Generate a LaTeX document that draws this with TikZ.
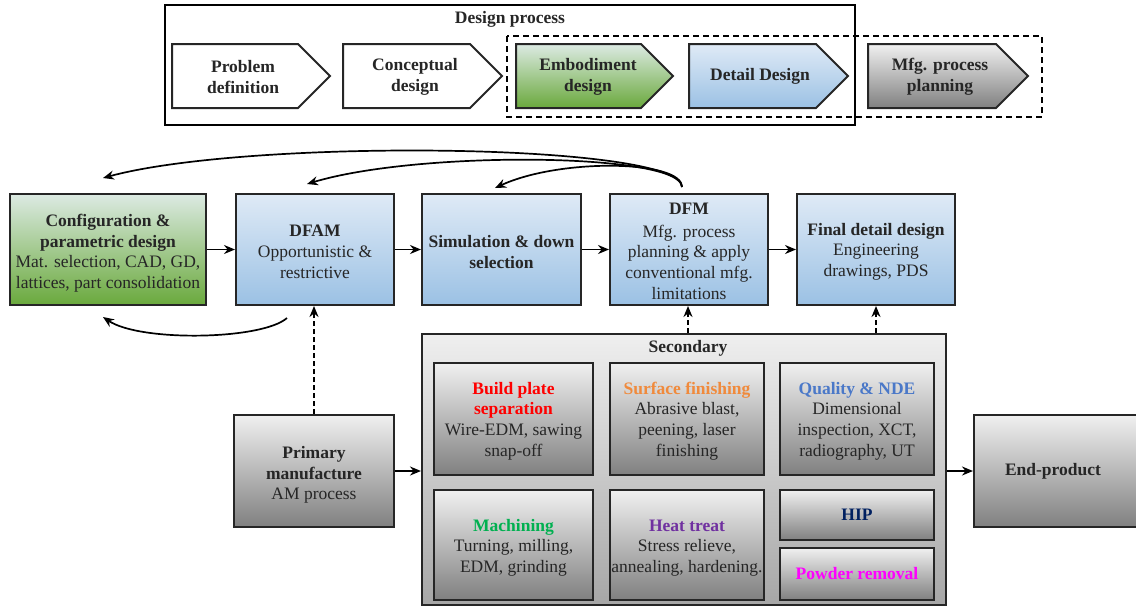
\documentclass[tikz,border=0pt]{standalone}
\usepackage{fontspec}
\IfFontExistsTF{LiberationSerif-Regular.ttf}{\setmainfont{LiberationSerif}[Extension=.ttf,UprightFont=*-Regular,BoldFont=*-Bold,ItalicFont=*-Italic,BoldItalicFont=*-BoldItalic]}{\setmainfont{Liberation Serif}}
\usetikzlibrary{arrows.meta,fit}
\definecolor{bluetop}{HTML}{DFEAF6}
\definecolor{bluebot}{HTML}{9BC1E4}
\definecolor{greentop}{HTML}{DCEAE3}
\definecolor{greenbot}{HTML}{6AA93C}
\definecolor{graytop}{HTML}{F0F0F0}
\definecolor{graybot}{HTML}{808080}
\definecolor{sectop}{HTML}{EFEFEF}
\definecolor{secbot}{HTML}{A6A6A6}
\definecolor{cred}{HTML}{FF0000}
\definecolor{corange}{HTML}{F08A3C}
\definecolor{cblue}{HTML}{4A78C8}
\definecolor{cgreen}{HTML}{00B050}
\definecolor{cpurple}{HTML}{7030A0}
\definecolor{cnavy}{HTML}{002060}
\definecolor{cmag}{HTML}{FF00FF}
\definecolor{txt}{HTML}{262626}
\newcommand{\myfont}{\rmfamily\fontsize{8.75}{10.3}\selectfont}
\newcommand{\ts}[1]{\rule{0pt}{#1}}
\begin{document}
\begin{tikzpicture}[x=0.5pt,y=-0.5pt,
  box/.style={draw=black!85, line width=1pt, inner sep=0pt, align=center, font=\myfont, text=txt},
  bluebox/.style={box, top color=bluetop, bottom color=bluebot, minimum width=79pt, minimum height=55.5pt},
  greenbox/.style={box, top color=greentop, bottom color=greenbot},
  graybox/.style={box, top color=graytop, bottom color=graybot},
  secbox/.style={box, top color=sectop, bottom color=secbot},
  chev/.style={draw=black!85, line width=1pt},
  lbl/.style={font=\myfont\bfseries, align=center, text=txt, inner sep=0pt},
  arr/.style={-{Stealth[length=5.5pt,width=4.5pt]}, line width=0.85pt, black},
  darr/.style={arr, dash pattern=on 2.5pt off 1.5pt},
]
\useasboundingbox (0,0) rectangle (1136,607);
% Design process frame
\node[draw=black, line width=1pt, inner sep=0pt, fit={(165,5)(855,125)}] (dp) {};
\node[lbl] (dptitle) at (510,19) {Design process};
\draw[line width=1pt, dash pattern=on 3pt off 2pt] (507,36) rectangle (1042,117);
% chevrons
\draw[chev, fill=white] (172,44) -- (298,44) -- (330,76) -- (298,108) -- (172,108) -- cycle;
\node[lbl] (c1) at (243,77) {Problem\\definition};
\draw[chev, fill=white] (343,44) -- (470,44) -- (502,76) -- (470,108) -- (343,108) -- cycle;
\node[lbl] (c2) at (415,77) {Conceptual\\design};
\shade[chev, top color=greentop, bottom color=greenbot] (516,44) -- (641,44) -- (673,76) -- (641,108) -- (516,108) -- cycle;
\node[lbl] (c3) at (588,77) {Embodiment\\design};
\shade[chev, top color=bluetop, bottom color=bluebot] (689,44) -- (816,44) -- (848,76) -- (816,108) -- (689,108) -- cycle;
\node[lbl] (c4) at (760,76) {Detail Design};
\shade[chev, top color=graytop, bottom color=graybot] (868,44) -- (996,44) -- (1028,76) -- (996,108) -- (868,108) -- cycle;
\node[lbl] (c5) at (940,77) {Mfg. process\\planning};
% Row 2
\node[greenbox, minimum width=98pt, minimum height=55.5pt] (config) at (108,249.5) {\ts{10pt}\textbf{Configuration \&}\\\textbf{parametric design}\\Mat. selection, CAD, GD,\\lattices, part consolidation};
\node[bluebox] (dfam) at (315,249.5) {\ts{8pt}\textbf{DFAM}\\Opportunistic \&\\restrictive};
\node[bluebox, minimum width=79.5pt] (sim) at (501.5,249.5) {\ts{8.5pt}\textbf{Simulation \& down}\\\textbf{selection}};
\node[bluebox] (dfm) at (689,249.5) {\ts{7.5pt}\textbf{DFM}\\[1pt]Mfg. process\\planning \& apply\\conventional mfg.\\limitations};
\node[bluebox] (final) at (876,249.5) {\ts{8pt}\textbf{Final detail design}\\Engineering\\drawings, PDS};
\draw[arr] (config) -- (dfam);
\draw[arr] (dfam) -- (sim);
\draw[arr] (sim) -- (dfm);
\draw[arr] (dfm) -- (final);
% feedback curves
\coordinate (fb) at (682,187);
\coordinate (fbc) at (103,178);
\coordinate (fbd) at (307,184);
\coordinate (fbs) at (495,188);
\draw[arr] (fb) .. controls (682,143) and (250,138) .. (fbc);
\draw[arr] (fb) .. controls (682,153) and (420,150) .. (fbd);
\draw[arr] (fb) .. controls (682,160) and (560,158) .. (fbs);
\coordinate (la) at (287,318);
\coordinate (lb) at (103,317);
\draw[arr] (la) .. controls (262,340) and (140,342) .. (lb);
% lower part
\node[graybox, minimum width=80pt, minimum height=56pt] (prim) at (314,471) {\ts{10pt}\textbf{Primary}\\\textbf{manufacture}\\AM process};
\node[secbox, minimum width=262pt, minimum height=135.5pt] (sec) at (684,469.5) {};
\node[lbl] (sectitle) at (688,348) {Secondary};
\node[graybox, minimum width=79.5pt, minimum height=56pt] (build) at (513.5,419) {\ts{8pt}\textcolor{cred}{\textbf{Build plate}}\\\textcolor{cred}{\textbf{separation}}\\Wire-EDM, sawing\\snap-off};
\node[graybox, minimum width=77pt, minimum height=56pt] (surf) at (687,419) {\ts{8pt}\textcolor{corange}{\textbf{Surface finishing}}\\Abrasive blast,\\peening, laser\\finishing};
\node[graybox, minimum width=77pt, minimum height=56pt] (qual) at (857,419) {\ts{8pt}\textcolor{cblue}{\textbf{Quality \& NDE}}\\Dimensional\\inspection, XCT,\\radiography, UT};
\node[graybox, minimum width=79.5pt, minimum height=55pt] (mach) at (513.5,545) {\ts{8.5pt}\textcolor{cgreen}{\textbf{Machining}}\\Turning, milling,\\EDM, grinding};
\node[graybox, minimum width=77pt, minimum height=55pt] (heat) at (687,545) {\ts{8.5pt}\textcolor{cpurple}{\textbf{Heat treat}}\\Stress relieve,\\annealing, hardening.};
\node[graybox, minimum width=77pt, minimum height=25pt] (hip) at (857,515) {\textcolor{cnavy}{\textbf{HIP}}};
\node[graybox, minimum width=77pt, minimum height=26pt] (powder) at (857,574) {\textcolor{cmag}{\textbf{Powder removal}}};
\node[graybox, minimum width=83pt, minimum height=56pt] (endp) at (1057,471) {};
\node[lbl] (endlbl) at (1053,471) {End-product};
\draw[arr] (prim) -- (sec.west |- prim);
\draw[arr] (sec.east |- endp) -- (endp);
\draw[darr] (prim.north -| 314,0) -- (dfam.south -| 314,0);
\draw[darr] (sec.north -| 688,0) -- (dfm.south -| 688,0);
\draw[darr] (sec.north -| 876,0) -- (final.south -| 876,0);
\end{tikzpicture}
\end{document}
